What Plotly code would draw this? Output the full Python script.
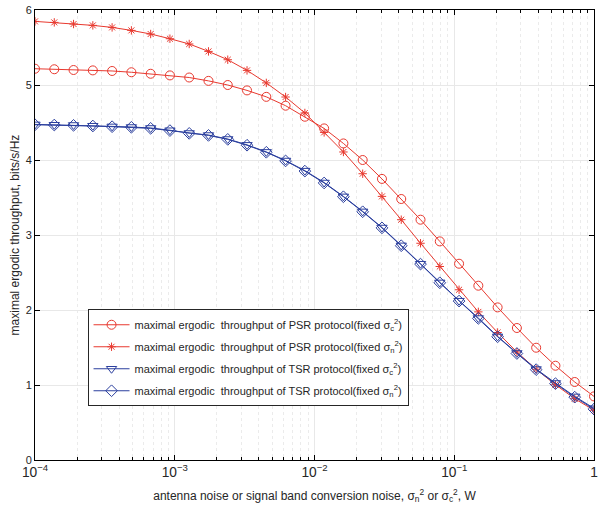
import numpy as np
import plotly.graph_objects as go

# noise variance (log-spaced sample points, 30 points from 1e-4 to 1)
noise = np.logspace(-4, 0, 30)

psr_fixed_c = [5.217, 5.21, 5.20, 5.195, 5.187, 5.17, 5.15, 5.128, 5.10, 5.055,
               5.0, 4.928, 4.842, 4.724, 4.577, 4.421, 4.221, 4.0, 3.748, 3.48,
               3.204, 2.915, 2.617, 2.324, 2.035, 1.76, 1.497, 1.257, 1.04, 0.848]
psr_fixed_n = [5.848, 5.835, 5.813, 5.795, 5.768, 5.728, 5.68, 5.617, 5.547, 5.448,
               5.337, 5.195, 5.028, 4.84, 4.627, 4.368, 4.107, 3.817, 3.515, 3.204,
               2.89, 2.58, 2.27, 1.975, 1.70, 1.44, 1.21, 1.004, 0.817, 0.664]
tsr_fixed_c = [4.475, 4.47, 4.467, 4.457, 4.448, 4.44, 4.427, 4.397, 4.36, 4.333,
               4.28, 4.202, 4.108, 3.993, 3.858, 3.70, 3.515, 3.315, 3.10, 2.862,
               2.617, 2.368, 2.124, 1.893, 1.648, 1.427, 1.213, 1.027, 0.848, 0.69]
tsr_fixed_n = [4.47, 4.466, 4.462, 4.453, 4.444, 4.436, 4.422, 4.392, 4.355, 4.328,
               4.275, 4.197, 4.103, 3.988, 3.852, 3.694, 3.51, 3.31, 3.095, 2.857,
               2.612, 2.363, 2.119, 1.888, 1.643, 1.42, 1.205, 1.018, 0.838, 0.678]

names = [
    "maximal ergodic\u00a0 throughput of PSR protocol(fixed σ<sub>c</sub><sup>2</sup>)",
    "maximal ergodic\u00a0 throughput of PSR protocol(fixed σ<sub>n</sub><sup>2</sup>)",
    "maximal ergodic\u00a0 throughput of TSR protocol(fixed σ<sub>c</sub><sup>2</sup>)",
    "maximal ergodic\u00a0 throughput of TSR protocol(fixed σ<sub>n</sub><sup>2</sup>)",
]

RED = "#e8392f"
BLUE = "#2b3f9e"
series = [
    (psr_fixed_c, RED, "circle-open", 9),
    (psr_fixed_n, RED, "asterisk-open", 7),
    (tsr_fixed_c, BLUE, "triangle-down-open", 9),
    (tsr_fixed_n, BLUE, "diamond-open", 9),
]

fig = go.Figure()
for k, ((vals, col, sym, sz), nm) in enumerate(zip(series, names)):
    fig.add_trace(go.Scatter(
        x=noise, y=vals, mode="lines+markers", name=nm, legendgroup=f"g{k}",
        line=dict(color=col, width=1),
        marker=dict(symbol=sym, size=sz, color=col, line=dict(color=col, width=1)),
    ))

font = "Liberation Sans, Arial, sans-serif"
fig.update_layout(
    width=601, height=513,
    margin=dict(l=35, r=7, t=10, b=53),
    paper_bgcolor="white", plot_bgcolor="white",
    font=dict(family=font, size=11, color="#262626"),
    showlegend=True,
    legend=dict(
        x=0.094, y=0.335, xanchor="left", yanchor="top",
        bgcolor="white", bordercolor="#262626", borderwidth=1,
        font=dict(family=font, size=11, color="#262626"),
        itemwidth=36, tracegroupgap=3,
    ),
    xaxis=dict(
        type="log", range=[-4, 0], dtick=1, exponentformat="power",
        automargin=False,
        showline=True, linecolor="black", linewidth=1, mirror="ticks",
        ticks="inside", ticklen=5, tickcolor="black",
        showgrid=True, gridcolor="#e8e8e8", gridwidth=1,
        minor=dict(ticks="inside", ticklen=3, tickcolor="black",
                   showgrid=True, gridcolor="#ebebeb", griddash="dot"),
        zeroline=False,
        title=dict(text="antenna noise or signal band conversion noise, σ<sub>n</sub><sup>2</sup> or σ<sub>c</sub><sup>2</sup>, W",
                   font=dict(size=12, family=font), standoff=12),
        tickfont=dict(size=11, family=font),
    ),
    yaxis=dict(
        range=[0, 6], dtick=1,
        automargin=False,
        showline=True, linecolor="black", linewidth=1, mirror="ticks",
        ticks="inside", ticklen=5, tickcolor="black",
        showgrid=True, gridcolor="#e8e8e8", gridwidth=1,
        zeroline=False,
        title=dict(text="maximal ergodic throughput, bits/s/Hz",
                   font=dict(size=12, family=font), standoff=3),
        tickfont=dict(size=11, family=font),
    ),
)

fig.write_html("out.html", config={"displayModeBar": False},
               post_script="document.body.style.margin='0';")
